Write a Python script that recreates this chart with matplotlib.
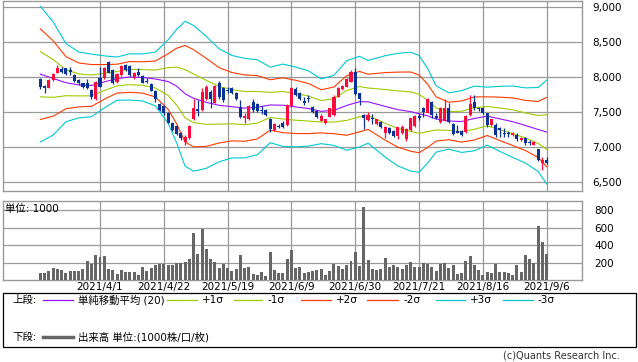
import matplotlib
matplotlib.use('Agg')
import matplotlib.pyplot as plt
from matplotlib.lines import Line2D
from matplotlib.patches import Rectangle
import numpy as np

plt.rcParams['font.family'] = ['DejaVu Sans', 'Noto Sans CJK JP']

# ---------------- data ----------------
tick_idx = [14, 29, 44, 59, 74, 89, 104, 119]
tick_labels = ['2021/4/1', '2021/4/22', '2021/5/19', '2021/6/9', '2021/6/30',
               '2021/7/21', '2021/8/16', '2021/9/6']

opens = [7976, 7876, 7852, 7962, 8067, 8119, 8129, 8105, 8033, 7962,
         7914, 7914, 7819, 7690, 7986, 7995, 8219, 8105, 7929, 8033,
         8176, 8162, 7986, 8081, 8019, 7952, 7905, 7810, 7619, 7590,
         7495, 7352, 7305, 7200, 7081, 7129, 7400, 7552, 7533, 7695,
         7786, 7638, 7914, 7843, 7819, 7843, 7776, 7571, 7414, 7405,
         7652, 7619, 7529, 7533, 7400, 7248, 7305, 7352, 7319, 7590,
         7833, 7771, 7657, 7705, 7581, 7524, 7381, 7343, 7438, 7462,
         7724, 7829, 7867, 7938, 8081, 7771, 7457, 7395, 7420, 7333,
         7367, 7200, 7276, 7238, 7162, 7200, 7114, 7248, 7305, 7440,
         7557, 7495, 7648, 7440, 7367, 7381, 7557, 7333, 7233, 7237,
         7223, 7461, 7652, 7557, 7557, 7485, 7319, 7319, 7271, 7210,
         7205, 7171, 7180, 7105, 7138, 7062, 7038, 6971, 6771, 6819]
highs = [7986, 7890, 7971, 8057, 8171, 8152, 8138, 8152, 8048, 7981,
         7924, 7976, 7838, 7943, 8152, 8152, 8229, 8119, 8057, 8171,
         8186, 8171, 8081, 8133, 8029, 7986, 7914, 7819, 7629, 7605,
         7510, 7362, 7314, 7214, 7176, 7319, 7686, 7676, 7843, 7890,
         7819, 7890, 7948, 7857, 7857, 7857, 7786, 7676, 7486, 7605,
         7695, 7638, 7590, 7543, 7414, 7343, 7333, 7381, 7619, 7867,
         7867, 7786, 7724, 7748, 7590, 7533, 7471, 7410, 7565, 7748,
         7867, 7890, 7986, 8100, 8129, 7781, 7476, 7500, 7476, 7410,
         7380, 7300, 7286, 7250, 7295, 7320, 7270, 7424, 7462, 7495,
         7576, 7700, 7660, 7495, 7570, 7690, 7637, 7347, 7318, 7250,
         7460, 7747, 7747, 7580, 7570, 7495, 7410, 7343, 7295, 7271,
         7238, 7215, 7200, 7152, 7152, 7105, 7085, 6976, 6867, 6867]
lows = [7833, 7781, 7843, 7952, 8057, 8057, 8038, 8033, 7929, 7890,
        7843, 7829, 7690, 7676, 7857, 7981, 8057, 7905, 7914, 8024,
        8095, 8024, 7976, 8024, 7914, 7914, 7800, 7652, 7519, 7462,
        7343, 7238, 7176, 7105, 7033, 7114, 7390, 7448, 7524, 7676,
        7557, 7629, 7686, 7652, 7771, 7762, 7676, 7414, 7343, 7390,
        7510, 7510, 7471, 7452, 7224, 7238, 7271, 7281, 7305, 7581,
        7738, 7676, 7605, 7652, 7495, 7414, 7370, 7330, 7430, 7452,
        7714, 7819, 7857, 7929, 7752, 7605, 7257, 7380, 7333, 7320,
        7276, 7129, 7190, 7150, 7124, 7190, 7086, 7238, 7295, 7390,
        7433, 7486, 7420, 7400, 7350, 7370, 7350, 7176, 7200, 7160,
        7210, 7450, 7533, 7520, 7470, 7290, 7300, 7152, 7152, 7143,
        7152, 7165, 7095, 7095, 7033, 7033, 7030, 6805, 6676, 6757]
closes = [7857, 7843, 7962, 8048, 8129, 8081, 8048, 8081, 7948, 7924,
          7857, 7852, 7724, 7938, 7867, 8129, 8067, 7914, 8048, 8162,
          8105, 8033, 8067, 8033, 7924, 7938, 7810, 7686, 7533, 7486,
          7352, 7248, 7190, 7129, 7143, 7310, 7557, 7524, 7795, 7867,
          7686, 7876, 7724, 7676, 7800, 7771, 7686, 7438, 7448, 7590,
          7533, 7519, 7514, 7462, 7257, 7329, 7286, 7295, 7605, 7852,
          7748, 7686, 7638, 7686, 7510, 7429, 7447, 7400, 7557, 7724,
          7852, 7876, 7971, 8081, 7762, 7686, 7424, 7460, 7405, 7400,
          7286, 7286, 7200, 7162, 7286, 7286, 7257, 7414, 7448, 7425,
          7500, 7686, 7457, 7420, 7557, 7557, 7366, 7190, 7209, 7176,
          7447, 7618, 7557, 7542, 7485, 7318, 7400, 7176, 7252, 7195,
          7195, 7209, 7124, 7138, 7057, 7057, 7076, 6819, 6819, 6771]

volume = [84, 84, 110, 141, 130, 122, 88, 103, 110, 110,
          130, 221, 187, 290, 267, 278, 130, 118, 72, 118,
          95, 95, 95, 65, 152, 110, 141, 175, 190, 190,
          175, 175, 198, 198, 213, 244, 545, 301, 587, 358,
          244, 210, 141, 187, 141, 110, 130, 290, 141, 152,
          69, 61, 95, 50, 324, 118, 88, 88, 244, 350,
          140, 152, 84, 95, 110, 122, 133, 61, 107, 190,
          164, 130, 175, 221, 324, 164, 838, 232, 130, 122,
          130, 255, 152, 175, 152, 130, 175, 210, 152, 152,
          198, 190, 152, 107, 190, 198, 141, 175, 72, 84,
          221, 278, 175, 118, 61, 95, 84, 190, 95, 95,
          84, 61, 175, 95, 290, 244, 198, 621, 442, 301]

# Bollinger band readings: 20-day average and sigma at sampled days
band_idx = [0, 3, 6, 9, 12, 15, 18, 21, 24, 27, 30, 32, 34, 36, 39, 42, 45,
            48, 51, 54, 57, 60, 63, 66, 69, 72, 75, 77, 81, 84, 87, 89, 91,
            93, 96, 99, 102, 105, 108, 111, 114, 117, 119]
ma20 = [8044, 7983, 7923, 7891, 7884, 7934, 7981, 8005, 7998, 7976, 7940,
        7875, 7765, 7700, 7642, 7600, 7580, 7560, 7572, 7605, 7601, 7577,
        7554, 7514, 7528, 7598, 7652, 7650, 7585, 7538, 7510, 7478, 7450,
        7405, 7376, 7368, 7412, 7445, 7406, 7366, 7312, 7254, 7218]
sigma = [323, 269, 186, 157, 149, 124, 103, 110, 112, 128, 198, 270, 345,
         347, 314, 269, 244, 237, 226, 180, 196, 190, 179, 154, 167, 213,
         216, 197, 241, 268, 283, 278, 226, 158, 134, 147, 154, 138, 155,
         170, 179, 200, 247]

# ---------------- layout ----------------
W, H = 638, 362
fig = plt.figure(figsize=(W / 100, H / 100), dpi=100)


def rect(l, t, r, b):
    return [l / W, 1 - b / H, (r - l) / W, (b - t) / H]


def fx(x):
    return x / W


def fy(y):
    return 1 - y / H


grid_c = '#9a9a9a'
up_c = '#ff0a3c'
dn_c = '#0a3296'
xlim = (-8.73, 127.37)

ax1 = fig.add_axes(rect(3.3, 1.0, 582.3, 190.7))
ax2 = fig.add_axes(rect(3.3, 201.3, 582.3, 280.3))

for ax in (ax1, ax2):
    ax.set_xlim(*xlim)
    for s in ax.spines.values():
        s.set_color(grid_c)
        s.set_linewidth(1.0)
    ax.set_axisbelow(True)
    ax.grid(True, color=grid_c, linewidth=0.9)
    ax.set_xticks(tick_idx)
    ax.yaxis.tick_right()
    ax.tick_params(length=0, labelsize=7.5, colors='black')

# upper panel
ax1.set_ylim(6380, 9090)
ax1.set_yticks([6500, 7000, 7500, 8000, 8500, 9000])
ax1.set_yticklabels(['6,500', '7,000', '7,500', '8,000', '8,500', '9,000'])
ax1.tick_params(axis='y', pad=7)
ax1.set_xticklabels([])

bi = np.array(band_idx)
ma = np.array(ma20, dtype=float)
sd = np.array(sigma, dtype=float)
band_styles = [(3, '#00c8d2'), (2, '#ff3a00'), (1, '#9ccc00')]
for k, col in band_styles:
    ax1.plot(bi, ma + k * sd, color=col, lw=0.8, zorder=2)
    ax1.plot(bi, ma - k * sd, color=col, lw=0.8, zorder=2)
ax1.plot(bi, ma, color='#9a10ff', lw=0.8, zorder=2)

x = np.arange(len(opens))
o = np.array(opens, dtype=float)
c = np.array(closes, dtype=float)
hi = np.array(highs, dtype=float)
lo = np.array(lows, dtype=float)
cols = [up_c if cc >= oo else dn_c for oo, cc in zip(o, c)]
ax1.vlines(x, lo, hi, colors=cols, linewidth=0.9, zorder=3)
body_h = np.maximum(np.abs(c - o), 12)
ax1.bar(x, body_h, bottom=np.minimum(o, c), width=0.72, color=cols,
        linewidth=0, zorder=4)

# lower panel
ax2.set_ylim(0, 903)
ax2.set_yticks([200, 400, 600, 800])
ax2.set_yticklabels(['200', '400', '600', '800'])
ax2.tick_params(axis='y', pad=8.5)
ax2.set_xticklabels(tick_labels)
ax2.tick_params(axis='x', pad=1.5)
ax2.bar(x, volume, width=0.7, color='#666666', linewidth=0, zorder=3)
fig.text(fx(5), fy(209), '単位: 1000', fontsize=7.5, va='center', ha='left')

# legend box
fig.patches.append(Rectangle((fx(3), fy(347)), fx(636) - fx(3), fy(293) - fy(347),
                             transform=fig.transFigure, fill=False,
                             edgecolor='black', linewidth=0.9))
ry1, ry2 = 300, 337
fs = 7.5
fig.text(fx(12), fy(ry1), '上段:', fontsize=fs, va='center')
fig.text(fx(12), fy(ry2), '下段:', fontsize=fs, va='center')
leg_items = [(43, 73, '#9a10ff', None), (167, 197, '#9ccc00', '+1σ'),
             (234, 262, '#9ccc00', '-1σ'), (301, 331, '#ff3a00', '+2σ'),
             (367, 398, '#ff3a00', '-2σ'), (436, 465, '#00c8d2', '+3σ'),
             (503, 533, '#00c8d2', '-3σ')]
for x0, x1, col, lab in leg_items:
    fig.add_artist(Line2D([fx(x0), fx(x1)], [fy(ry1), fy(ry1)], color=col,
                          lw=0.9, transform=fig.transFigure))
    if lab:
        fig.text(fx(x1 + 5), fy(ry1), lab, fontsize=fs, va='center')
fig.text(fx(78), fy(ry1), '単純移動平均 (20)', fontsize=fs, va='center')
fig.add_artist(Line2D([fx(43), fx(73)], [fy(ry2), fy(ry2)], color='#666666',
                      lw=2.5, transform=fig.transFigure))
fig.text(fx(78), fy(ry2), '出来高 単位:(1000株/口/枚)', fontsize=fs, va='center')

fig.text(fx(620), fy(356), '(c)Quants Research Inc.', fontsize=7, va='center',
         ha='right', color='#333333')

fig.savefig('out.png', dpi=100)
